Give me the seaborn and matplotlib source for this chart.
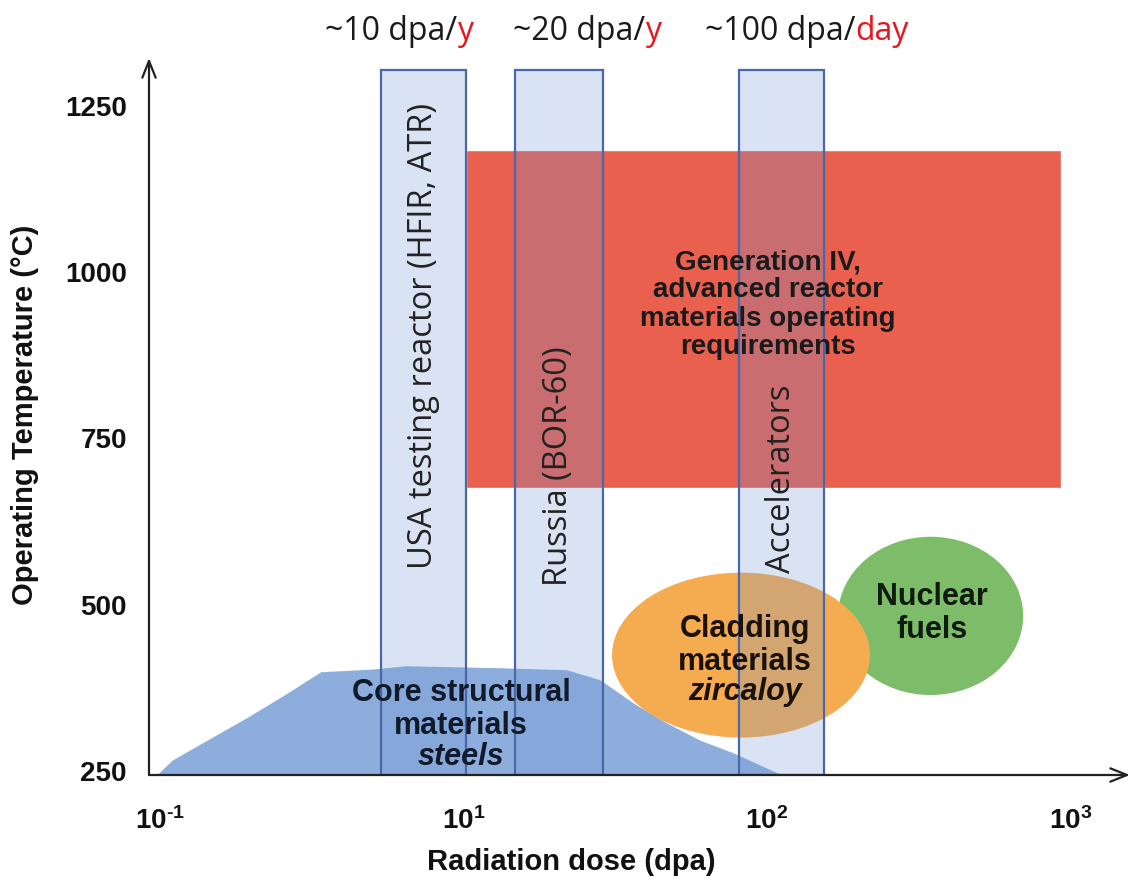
import matplotlib
matplotlib.use("Agg")
import matplotlib.pyplot as plt
from matplotlib.patches import Ellipse
import seaborn as sns

# dose axis is laid out in equal slots, one per labelled decade tick
dose_ticks = [0, 1, 2, 3]
dose_labels = [r'$\mathbf{10^{\text{-}1}}$', r'$\mathbf{10^{1}}$', r'$\mathbf{10^{2}}$', r'$\mathbf{10^{3}}$']
temp_ticks = [250, 500, 750, 1000, 1250]

# irradiation facilities (vertical bands)
facilities = ['USA testing reactor (HFIR, ATR)', 'Russia (BOR-60)', 'Accelerators']
facility_lo = [0.73, 1.17, 1.91]
facility_hi = [1.01, 1.46, 2.19]
facility_tmax = 1304
rate_values = ['~10 dpa/', '~20 dpa/', '~100 dpa/']
rate_units = ['y', 'y', 'day']

# Gen IV operating window
gen4_dose = [1.01, 2.97]
gen4_temp = [675, 1184]

# core structural materials envelope
core_dose = [-0.01, 0.04, 0.155, 0.29, 0.42, 0.53, 0.70, 0.81, 1.12, 1.34, 1.45, 1.56, 1.67, 1.78, 1.89, 2.0, 2.05]
core_temp = [244, 266, 296, 331, 367, 399, 403, 408, 405, 402, 387, 352, 322, 296, 277, 254, 244]

# cladding + fuel regions (centre dose, centre temp, width, height)
cladding = (1.915, 424, 0.85, 248)
fuel = (2.54, 483, 0.61, 238)

XLIM = (-0.036, 3.197)
YLIM = (243.7, 1322)

sns.set_theme(style='white')
plt.rcParams['font.family'] = ['Liberation Sans', 'DejaVu Sans']
plt.rcParams['mathtext.fontset'] = 'custom'
plt.rcParams['mathtext.rm'] = 'Liberation Sans:bold'
plt.rcParams['mathtext.bf'] = 'Liberation Sans:bold'

fig = plt.figure(figsize=(11.36, 8.86), dpi=100)
ax = fig.add_axes([149 / 1136, 1 - 775 / 886, 981 / 1136, 717 / 886])
ax.set_xlim(*XLIM)
ax.set_ylim(*YLIM)

bold = dict(ha='center', va='center', fontweight='bold', linespacing=1.12, zorder=6)

# Gen IV box
ax.bar(gen4_dose[0], gen4_temp[1] - gen4_temp[0], width=gen4_dose[1] - gen4_dose[0],
       bottom=gen4_temp[0], align='edge', color='#e9604f', zorder=1)
ax.text(2.004, 951, 'Generation IV,\nadvanced reactor\nmaterials operating\nrequirements',
        fontsize=20, color='#1a1a1a', **bold)

# core structural envelope
ax.fill_between(core_dose, YLIM[0], core_temp, color='#8daedc', lw=0, zorder=1)
ax.text(0.992, 342, 'Core structural\nmaterials', fontsize=22, color='#111a2a', **bold)
ax.text(0.992, 271, 'steels', fontsize=22, style='italic', color='#111a2a', **bold)

# fuel and cladding ellipses
ax.add_patch(Ellipse(fuel[:2], fuel[2], fuel[3], color='#7dbd69', lw=0, zorder=2))
ax.add_patch(Ellipse(cladding[:2], cladding[2], cladding[3], color='#f5ac50', lw=0, zorder=3))
ax.text(2.545, 487, 'Nuclear\nfuels', fontsize=22, color='#111a11', **bold)
ax.text(1.928, 439, 'Cladding\nmaterials', fontsize=22, color='#1a1208', **bold)
ax.text(1.928, 368, 'zircaloy', fontsize=22, style='italic', color='#1a1208', **bold)

# facility bands on top
for lo, hi in zip(facility_lo, facility_hi):
    ax.bar(lo, facility_tmax - YLIM[0], width=hi - lo, bottom=YLIM[0], align='edge',
           facecolor=(0.44, 0.58, 0.82, 0.26), edgecolor='#4a67a8', lw=1.6, zorder=4)

txt_pos = [904, 708, 689]
for name, lo, hi, ty in zip(facilities, facility_lo, facility_hi, txt_pos):
    ax.text((lo + hi) / 2, ty, name, rotation=90, ha='center', va='center',
            fontsize=23.5, family='Open Sans', color='#222222', zorder=6)

rate_x = [0.544, 1.163, 1.796]
for rx, rv, ru in zip(rate_x, rate_values, rate_units):
    t = ax.text(rx, 1337, rv, ha='left', va='bottom', fontsize=23, family='Open Sans',
                color='#1a1a1a', clip_on=False)
    ax.annotate(ru, xy=(1, 0), xycoords=t, ha='left', va='bottom', fontsize=23,
                family='Open Sans', color='#e8161c')

# axes with arrows
for s in ax.spines.values():
    s.set_visible(False)
arrow = dict(arrowstyle='->,head_length=1.0,head_width=0.4', lw=1.6, color='#222222',
             shrinkA=0, shrinkB=0)
ax.annotate('', xy=(1, 0), xytext=(0, 0), xycoords='axes fraction', arrowprops=arrow, zorder=7)
ax.annotate('', xy=(0, 1), xytext=(0, 0), xycoords='axes fraction', arrowprops=arrow, zorder=7)

ax.set_xticks(dose_ticks)
ax.set_xticklabels(dose_labels)
ax.set_yticks(temp_ticks)
ax.set_yticklabels([str(v) for v in temp_ticks])
ax.tick_params(axis='both', length=0, labelsize=20, colors='#111111')
ax.tick_params(axis='x', pad=23)
ax.tick_params(axis='y', pad=16)
for lab in ax.get_yticklabels() + ax.get_xticklabels():
    lab.set_fontweight('bold')
ax.grid(False)

ax.set_xlabel('Radiation dose (dpa)', fontsize=21, fontweight='bold', color='#111111')
ax.xaxis.set_label_coords(0.43, -0.122)
ax.xaxis.label.set_va('center')
ax.set_ylabel('Operating Temperature (°C)', fontsize=21, fontweight='bold', color='#111111')
ax.yaxis.set_label_coords(-0.126, 0.502)
ax.yaxis.label.set_va('center')

fig.savefig('out.png', dpi=100, facecolor='white')
